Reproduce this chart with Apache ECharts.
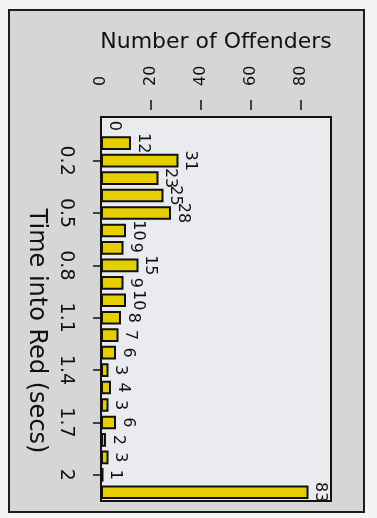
<!DOCTYPE html>
<html>
<head>
<meta charset="utf-8">
<script src="https://cdn.jsdelivr.net/npm/echarts@6/dist/echarts.min.js"></script>
<style>
html,body{margin:0;padding:0;background:#f4f4f4;}
#c{width:377px;height:518px;}
</style>
</head>
<body>
<div id="c"></div>
<script>
// Time into red (secs) categories, top to bottom
const categories = ['0','0.1','0.2','0.3','0.4','0.5','0.6','0.7','0.8','0.9','1','1.1','1.2','1.3','1.4','1.5','1.6','1.7','1.8','1.9','2','2.1'];
// Number of offenders per category
const offenders = [0,12,31,23,25,28,10,9,15,9,10,8,7,6,3,4,3,6,2,3,1,83];
// Value-axis tick labels
const valueTickLabels = [0,20,40,60,80];
const valueTickMarks = [20,40,60,80];

const FONT = '"DejaVu Sans",sans-serif';
const chart = echarts.init(document.getElementById('c'), null, {renderer:'canvas'});
chart.setOption({
  animation:false,
  backgroundColor:'#f4f4f4',
  graphic:[{
    type:'rect', z:-100, silent:true,
    shape:{x:9,y:10,width:355,height:502},
    style:{fill:'#d6d6d6',stroke:'#1c1c1c',lineWidth:2}
  }],
  grid:{
    left:101, right:46, top:117, bottom:17,
    show:true, backgroundColor:'#eaebef', borderColor:'#111', borderWidth:2
  },
  xAxis:{
    type:'value', position:'top', min:0, max:92, offset:7,
    name:'Number of Offenders', nameLocation:'middle', nameGap:57,
    nameTextStyle:{fontFamily:FONT,fontSize:22,color:'#111'},
    axisLine:{show:false},
    axisTick:{show:true,length:10,lineStyle:{color:'#111',width:1.5},customValues:valueTickMarks},
    axisLabel:{rotate:-90,align:'left',verticalAlign:'middle',margin:24,
      fontFamily:FONT,fontSize:16,color:'#111',customValues:valueTickLabels},
    splitLine:{show:false}
  },
  yAxis:{
    type:'category', inverse:true, data:categories, offset:7,
    name:'Time into Red (secs)', nameLocation:'middle', nameGap:42, nameRotate:-90,
    nameTextStyle:{fontFamily:FONT,fontSize:24,color:'#111',padding:[0,0,0,44]},
    axisLine:{show:false},
    axisTick:{show:true,length:8,alignWithLabel:true,interval:function(i){return i%3===2;},lineStyle:{color:'#111',width:1.5}},
    axisLabel:{rotate:-90,align:'center',verticalAlign:'top',margin:19,interval:function(i){return i%3===2;},
      fontFamily:FONT,fontSize:19,color:'#111'}
  },
  series:[{
    type:'bar', data:offenders, barCategoryGap:'22%',
    itemStyle:{color:'#e6cf00',borderColor:'#111',borderWidth:2},
    label:{show:true,position:'right',distance:4,rotate:-90,align:'center',verticalAlign:'bottom',
      fontFamily:FONT,fontSize:16,color:'#111'}
  }]
});
</script>
</body>
</html>
